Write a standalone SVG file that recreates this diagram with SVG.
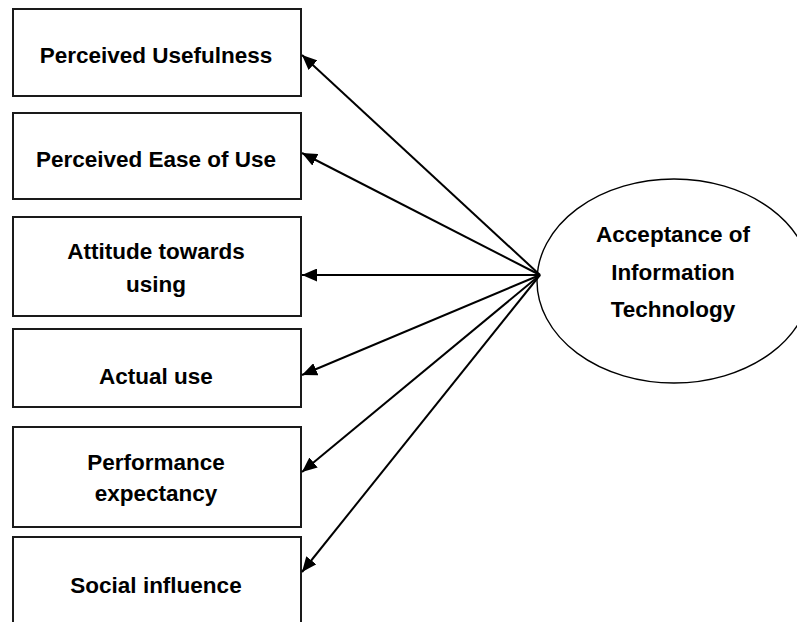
<svg xmlns="http://www.w3.org/2000/svg" width="797" height="622" viewBox="0 0 797 622">
  <style>
    .box { fill: #ffffff; stroke: #1a1a1a; stroke-width: 2; }
    .oval { fill: #ffffff; stroke: #000000; stroke-width: 1.4; }
    .lbl { font-family: "Liberation Sans", Arial, sans-serif; font-weight: bold; font-size: 22.5px; fill: #000000; text-anchor: middle; }
    .edge { stroke: #000000; stroke-width: 2; fill: none; marker-end: url(#head); }
  </style>
  <defs>
    <marker id="head" markerUnits="userSpaceOnUse" markerWidth="16" markerHeight="13" refX="15" refY="6.5" orient="auto">
      <path d="M0,0 L15,6.5 L0,13 z" fill="#000000"/>
    </marker>
  </defs>
  <rect width="797" height="622" fill="#ffffff"/>

  <g id="node-usefulness">
    <rect class="box" x="13" y="9" width="288" height="87"/>
    <text class="lbl" x="156" y="63">Perceived Usefulness</text>
  </g>
  <g id="node-ease">
    <rect class="box" x="13" y="113" width="288" height="86"/>
    <text class="lbl" x="156" y="167">Perceived Ease of Use</text>
  </g>
  <g id="node-attitude">
    <rect class="box" x="13" y="217" width="288" height="99"/>
    <text class="lbl" x="156" y="259">Attitude towards</text>
    <text class="lbl" x="156" y="292">using</text>
  </g>
  <g id="node-actual">
    <rect class="box" x="13" y="329" width="288" height="78"/>
    <text class="lbl" x="156" y="384">Actual use</text>
  </g>
  <g id="node-performance">
    <rect class="box" x="13" y="427" width="288" height="100"/>
    <text class="lbl" x="156" y="470">Performance</text>
    <text class="lbl" x="156" y="501">expectancy</text>
  </g>
  <g id="node-social">
    <rect class="box" x="13" y="537" width="288" height="100"/>
    <text class="lbl" x="156" y="593">Social influence</text>
  </g>
  <g id="node-acceptance">
    <ellipse class="oval" cx="674" cy="281" rx="137" ry="102"/>
    <text class="lbl" x="673" y="242">Acceptance of</text>
    <text class="lbl" x="673" y="280">Information</text>
    <text class="lbl" x="673" y="317">Technology</text>
  </g>

  <g id="connectors">
    <line class="edge" x1="540" y1="275" x2="302" y2="55"/>
    <line class="edge" x1="540" y1="275" x2="302" y2="153"/>
    <line class="edge" x1="540" y1="275" x2="302" y2="275"/>
    <line class="edge" x1="540" y1="275" x2="302" y2="375"/>
    <line class="edge" x1="540" y1="275" x2="302" y2="472"/>
    <line class="edge" x1="540" y1="275" x2="302" y2="572"/>
  </g>
</svg>
